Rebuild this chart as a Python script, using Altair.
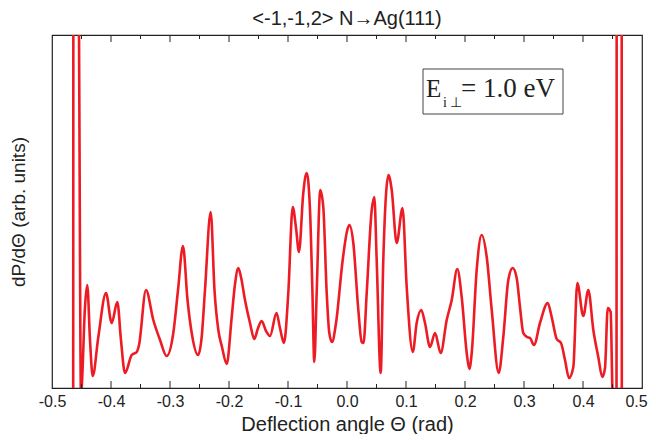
import altair as alt
import pandas as pd

# Deflection angle (rad) and dP/dTheta (arb. units)
theta = [-0.4641, -0.4636, -0.4549, -0.4508, -0.4492, -0.4441, -0.4402, -0.4356, -0.4310, -0.4215,
         -0.4085, -0.3988, -0.3893, -0.3831, -0.3763, -0.3649, -0.3564, -0.3525, -0.3407, -0.3283,
         -0.3169, -0.3056, -0.2944, -0.2864, -0.2780, -0.2703, -0.2632, -0.2525, -0.2463, -0.2407,
         -0.2310, -0.2246, -0.2181, -0.2119, -0.2039, -0.1954, -0.1898, -0.1842, -0.1797, -0.1729,
         -0.1644, -0.1571, -0.1508, -0.1446, -0.1373, -0.1305, -0.1195, -0.1136, -0.1068, -0.0995,
         -0.0920, -0.0864, -0.0814, -0.0741, -0.0683, -0.0627, -0.0588, -0.0554, -0.0514, -0.0453,
         -0.0402, -0.0344, -0.0300, -0.0254, -0.0186, -0.0073, 0.0005, 0.0042, 0.0107, 0.0192,
         0.0249, 0.0280, 0.0334, 0.0419, 0.0463, 0.0503, 0.0571, 0.0615, 0.0703, 0.0758,
         0.0842, 0.0941, 0.1012, 0.1115, 0.1181, 0.1259, 0.1322, 0.1407, 0.1492, 0.1588,
         0.1690, 0.1775, 0.1869, 0.1944, 0.2029, 0.2073, 0.2114, 0.2198, 0.2283, 0.2368,
         0.2453, 0.2571, 0.2649, 0.2734, 0.2808, 0.2876, 0.2932, 0.2988, 0.3051, 0.3102,
         0.3169, 0.3271, 0.3402, 0.3469, 0.3554, 0.3627, 0.3695, 0.3763, 0.3836, 0.3903,
         0.4005, 0.4090, 0.4175, 0.4259, 0.4327, 0.4373, 0.4419, 0.4469, 0.4497, 0.4517,
         0.4568, 0.4573, 0.4654, 0.4658]
dpdtheta = [-30, 700, 420, -10, 5, 81, 103, 48, 12, 51,
            95, 65, 86, 48, 15, 33, 36, 43, 98, 68,
            48, 32, 55, 98, 142, 88, 55, 33, 51, 98,
            176, 98, 58, 41, 24, 71, 104, 120, 111, 88,
            65, 49, 60, 67, 57, 52, 75, 60, 45, 95,
            181, 160, 136, 195, 215, 178, 101, 26, 95, 198,
            181, 95, 55, 46, 65, 128, 158, 163, 145, 78,
            46, 45, 95, 178, 191, 128, 15, 128, 213, 198,
            145, 180, 101, 36, 65, 78, 65, 41, 55, 35,
            68, 88, 119, 91, 35, 19, 35, 118, 153, 131,
            78, 15, 51, 108, 120, 110, 81, 55, 51, 50,
            43, 65, 85, 71, 49, 45, 28, 10, 21, 105,
            72, 98, 58, 31, 11, 20, 80, 76, 1, -30,
            -30, 700, 700, -30]

major_ticks = [-0.4, -0.3, -0.2, -0.1, 0.0, 0.1, 0.2, 0.3, 0.4]
minor_ticks = [-0.45, -0.35, -0.25, -0.15, -0.05, 0.05, 0.15, 0.25, 0.35, 0.45]
x_labels = [-0.5, -0.4, -0.3, -0.2, -0.1, 0.0, 0.1, 0.2, 0.3, 0.4, 0.5]

W, H = 590, 353
RED = "#ed1c24"
INK = "#222222"

df = pd.DataFrame({"theta": theta, "p": dpdtheta})
df_major = pd.DataFrame({"t": major_ticks})
df_minor = pd.DataFrame({"t": minor_ticks})
one = pd.DataFrame({"k": [0]})

xscale = alt.Scale(domain=[-0.5, 0.5], nice=False, zero=False)

line = alt.Chart(df).mark_line(color=RED, strokeWidth=2.6, clip=True, interpolate="monotone").encode(
    x=alt.X("theta:Q", scale=xscale,
            axis=alt.Axis(title="Deflection angle Θ (rad)", values=x_labels, ticks=False, grid=False,
                          domain=False, labelPadding=5, titlePadding=5, labelFlush=False,
                          labelOverlap=False, titleFontSize=20,
                          labelOffset=alt.condition("datum.value > 0.45", alt.value(-6), alt.value(0)),
                          labelExpr="datum.value < -0.001 ? '-' + format(-datum.value, '.1f') : format(abs(datum.value), '.1f')")),
    y=alt.Y("p:Q", scale=alt.Scale(domain=[0, H], nice=False),
            axis=alt.Axis(title="dP/dΘ (arb. units)", labels=False, ticks=False, grid=False,
                          domain=False, titlePadding=24, titleFontSize=19)),
)

def ticks(data, length, top):
    if top:
        enc = dict(y=alt.value(0), y2=alt.value(length))
    else:
        enc = dict(y=alt.value(H), y2=alt.value(H - length))
    return alt.Chart(data).mark_rule(color=INK, strokeWidth=1).encode(
        x=alt.X("t:Q", scale=xscale), **enc)

box = alt.Chart(one).mark_rect(fill="white", stroke="#444444", strokeWidth=1).encode(
    x=alt.value(371), x2=alt.value(511), y=alt.value(34), y2=alt.value(79))

serif = "Liberation Serif"
t_E = alt.Chart(one).mark_text(text="E", font=serif, fontSize=25, align="left", baseline="alphabetic",
                               color=INK).encode(x=alt.value(374), y=alt.value(62))
t_sub = alt.Chart(one).mark_text(text="i ⊥", font=serif, fontSize=14, align="left", baseline="alphabetic",
                                 color=INK).encode(x=alt.value(391), y=alt.value(72))
t_val = alt.Chart(one).mark_text(text="= 1.0 eV", font=serif, fontSize=27, align="left", baseline="alphabetic",
                                 color=INK).encode(x=alt.value(409), y=alt.value(62))

chart = alt.layer(
    line,
    ticks(df_major, 7, False), ticks(df_minor, 4, False),
    ticks(df_major, 7, True), ticks(df_minor, 4, True),
    box, t_E, t_sub, t_val,
).properties(
    width=W, height=H,
    title=alt.TitleParams("<-1,-1,2> N→Ag(111)", font="Liberation Sans", fontSize=20,
                          fontWeight="normal", color=INK, offset=6, anchor="middle"),
    autosize=alt.AutoSizeParams(type="none"),
    padding={"left": 44, "top": 27, "right": 6, "bottom": 46},
).configure_view(
    stroke=INK, strokeWidth=1.2
).configure_axis(
    labelFont="Liberation Sans", titleFont="Liberation Sans", labelColor=INK, titleColor=INK,
    labelFontSize=16, titleFontSize=21, titleFontWeight="normal"
)

chart.save("out.html", embed_options={"renderer": "svg", "actions": False})
